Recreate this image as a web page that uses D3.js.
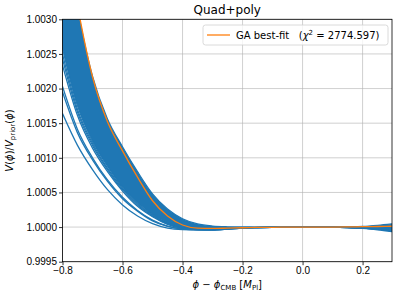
<!DOCTYPE html>
<html>
<head>
<meta charset="utf-8">
<script src="https://cdn.jsdelivr.net/npm/d3@7"></script>
<style>
  body { margin: 0; background: #fff; }
  svg { font-family: "DejaVu Sans", sans-serif; }
  .tick text { font-size: 10px; fill: #000; }
</style>
</head>
<body>
<svg id="chart" width="399" height="296"></svg>
<script>
// phi - phi_CMB grid shared by all curves
const phiGrid = [-0.8, -0.75, -0.7, -0.65, -0.6, -0.55, -0.5, -0.45, -0.4, -0.35, -0.3,
  -0.25, -0.2, -0.15, -0.1, 0, 0.1, 0.15, 0.2, 0.25, 0.298];

// values are (V/V_prior - 1) in units of 1e-4
const bestFit = [45, 32, 21.7, 15.2, 11.0, 7.2, 3.8, 1.6, 0.3, -0.15, -0.2,
  -0.15, -0.1, -0.05, -0.03, 0, 0, 0.02, 0.05, 0.08, 0.12];

// dense band of samples: upper and lower envelope
const bandUpper = [44, 31.5, 21.8, 15.6, 11.6, 8.0, 4.8, 2.6, 1.2, 0.45, 0.15,
  0.05, 0.02, 0.01, 0, 0, 0.02, 0.05, 0.1, 0.25, 0.45];
const bandLower = [25.8, 17.5, 12.4, 8.8, 5.8, 3.5, 1.8, 0.6, -0.1, -0.35, -0.4,
  -0.3, -0.15, -0.08, -0.03, 0, -0.02, -0.08, -0.2, -0.4, -0.66];

// separate samples left of the band
const sampleCurves = [
  [25.0, 17.0, 12.1, 8.5, 5.6, 3.35, 1.7, 0.5, -0.15, -0.37, -0.4, -0.3, -0.15, -0.08, -0.03, 0, -0.02, -0.06, -0.15, -0.3, -0.5],
  [24.3, 16.6, 11.8, 8.3, 5.4, 3.2, 1.6, 0.45, -0.15, -0.37, -0.4, -0.3, -0.15, -0.08, -0.03, 0, -0.02, -0.05, -0.12, -0.25, -0.4],
  [23.4, 16.1, 11.4, 8.0, 5.2, 3.0, 1.5, 0.4, -0.18, -0.38, -0.4, -0.29, -0.15, -0.08, -0.03, 0, -0.02, -0.06, -0.15, -0.32, -0.55],
  [20.3, 14.1, 10.0, 6.8, 4.3, 2.4, 1.0, 0.14, -0.27, -0.38, -0.37, -0.25, -0.12, -0.06, -0.02, 0, -0.02, -0.05, -0.12, -0.25, -0.45],
  [19.5, 13.6, 9.7, 6.6, 4.1, 2.3, 0.9, 0.1, -0.28, -0.38, -0.36, -0.24, -0.12, -0.06, -0.02, 0, -0.02, -0.06, -0.15, -0.3, -0.5],
  [16.4, 11.8, 8.3, 5.4, 3.2, 1.6, 0.5, -0.14, -0.36, -0.4, -0.32, -0.17, -0.09, -0.04, -0.01, 0, -0.02, -0.05, -0.1, -0.2, -0.35]
];

const xTicks = [-0.8, -0.6, -0.4, -0.2, 0.0, 0.2];
const yTicks = [0.9995, 1.0, 1.0005, 1.001, 1.0015, 1.002, 1.0025, 1.003];

const svg = d3.select("#chart");
const plotLeft = 62.5, plotRight = 392, plotTop = 19.3, plotBottom = 261.7;

const x = d3.scaleLinear().domain([-0.8, 0.298]).range([plotLeft, plotRight]);
const y = d3.scaleLinear().domain([0.9995, 1.003]).range([plotBottom, plotTop]);
const v = d => 1 + d * 1e-4;

svg.append("defs").append("clipPath").attr("id", "clip")
  .append("rect").attr("x", plotLeft).attr("y", plotTop)
  .attr("width", plotRight - plotLeft).attr("height", plotBottom - plotTop);

// grid
const grid = svg.append("g");
grid.selectAll(".gx").data(xTicks).join("line")
  .attr("x1", d => x(d)).attr("x2", d => x(d))
  .attr("y1", plotTop).attr("y2", plotBottom)
  .attr("stroke", "#b0b0b0").attr("stroke-opacity", 0.6).attr("stroke-width", 1);
grid.selectAll(".gy").data(yTicks).join("line")
  .attr("x1", plotLeft).attr("x2", plotRight)
  .attr("y1", d => y(d)).attr("y2", d => y(d))
  .attr("stroke", "#b0b0b0").attr("stroke-opacity", 0.6).attr("stroke-width", 1);

const plot = svg.append("g").attr("clip-path", "url(#clip)");

const line = d3.line()
  .x((d, i) => x(phiGrid[i]))
  .y(d => y(v(d)))
  .curve(d3.curveMonotoneX);

const band = d3.area()
  .x((d, i) => x(phiGrid[i]))
  .y0((d, i) => y(v(bandLower[i])))
  .y1((d, i) => y(v(bandUpper[i])))
  .curve(d3.curveMonotoneX);

plot.append("path").datum(bandUpper)
  .attr("d", band)
  .attr("fill", "#1f77b4")
  .attr("stroke", "#1f77b4").attr("stroke-width", 1.2);

plot.selectAll(".sample").data(sampleCurves).join("path")
  .attr("d", line)
  .attr("fill", "none")
  .attr("stroke", "#1f77b4")
  .attr("stroke-width", 1.3);

plot.append("path").datum(bestFit)
  .attr("d", line)
  .attr("fill", "none")
  .attr("stroke", "#ff7f0e")
  .attr("stroke-width", 1.3);

// axes
const xAxis = d3.axisBottom(x).tickValues(xTicks).tickFormat(d3.format(".1f")).tickSize(3.5).tickPadding(2);
const yAxis = d3.axisLeft(y).tickValues(yTicks).tickFormat(d3.format(".4f")).tickSize(3.5).tickPadding(2);

const gx = svg.append("g").attr("transform", `translate(0,${plotBottom})`).call(xAxis);
const gy = svg.append("g").attr("transform", `translate(${plotLeft},0)`).call(yAxis);
[gx, gy].forEach(g => {
  g.select(".domain").remove();
  g.selectAll(".tick line").attr("stroke", "#000").attr("stroke-width", 0.8);
});

// frame
svg.append("rect").attr("x", plotLeft).attr("y", plotTop)
  .attr("width", plotRight - plotLeft).attr("height", plotBottom - plotTop)
  .attr("fill", "none").attr("stroke", "#000").attr("stroke-width", 0.8);

// title
svg.append("text").attr("x", (plotLeft + plotRight) / 2).attr("y", 14)
  .attr("text-anchor", "middle").attr("font-size", 12).text("Quad+poly");

// x label
const xl = svg.append("text").attr("x", (plotLeft + plotRight) / 2).attr("y", 288)
  .attr("text-anchor", "middle").attr("font-size", 10);
xl.append("tspan").attr("font-style", "italic").text("ϕ");
xl.append("tspan").text(" − ");
xl.append("tspan").attr("font-style", "italic").text("ϕ");
xl.append("tspan").attr("font-size", 7).attr("dy", 2).text("CMB");
xl.append("tspan").attr("dy", -2).text("  [");
xl.append("tspan").attr("font-style", "italic").text("M");
xl.append("tspan").attr("font-size", 7).attr("dy", 2).text("Pl");
xl.append("tspan").attr("dy", -2).text("]");

// y label
const yl = svg.append("text")
  .attr("transform", `translate(13,${(plotTop + plotBottom) / 2}) rotate(-90)`)
  .attr("text-anchor", "middle").attr("font-size", 10);
yl.append("tspan").attr("font-style", "italic").text("V");
yl.append("tspan").text("(");
yl.append("tspan").attr("font-style", "italic").text("ϕ");
yl.append("tspan").text(")/");
yl.append("tspan").attr("font-style", "italic").text("V");
yl.append("tspan").attr("font-size", 7).attr("dy", 2).text("prior");
yl.append("tspan").attr("dy", -2).text("(");
yl.append("tspan").attr("font-style", "italic").text("ϕ");
yl.append("tspan").text(")");

// legend
const lg = svg.append("g");
lg.append("rect").attr("x", 203).attr("y", 25).attr("width", 185).attr("height", 20)
  .attr("rx", 2.5).attr("fill", "#fff").attr("fill-opacity", 0.8)
  .attr("stroke", "#d0d0d0").attr("stroke-width", 0.8);
lg.append("line").attr("x1", 207).attr("x2", 230).attr("y1", 35).attr("y2", 35)
  .attr("stroke", "#ff7f0e").attr("stroke-width", 1.3);
const lt = lg.append("text").attr("x", 236).attr("y", 38.5).attr("font-size", 10)
  .attr("xml:space", "preserve");
lt.append("tspan").text("GA best-fit   (");
lt.append("tspan").attr("font-style", "italic").text("χ");
lt.append("tspan").attr("font-size", 7).attr("dy", -4).text("2");
lt.append("tspan").attr("dy", 4).text(" = 2774.597)");
</script>
</body>
</html>
